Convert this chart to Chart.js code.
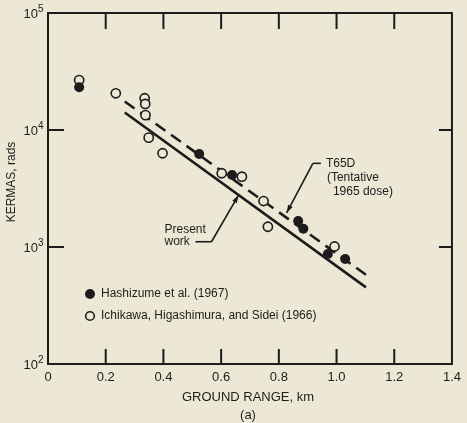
<!DOCTYPE html>
<html>
<head>
<meta charset="utf-8">
<script src="https://cdn.jsdelivr.net/npm/chart.js@4.4.0/dist/chart.umd.min.js"></script>
<style>
  html, body { margin: 0; padding: 0; background: #ece8d5; }
  canvas { display: block; }
</style>
</head>
<body>
<canvas id="grafico" width="467" height="423"></canvas>
<script>
// Valores
const xTicks = [0, 0.2, 0.4, 0.6, 0.8, 1.0, 1.2, 1.4];
const yTicks = [100, 1000, 10000, 100000];
const yExponentes = ['2', '3', '4', '5'];

// Hashizume et al. (1967) - círculos llenos
const hashizumeX = [0.108, 0.524, 0.638, 0.867, 0.885, 0.970, 1.030];
const hashizumeY = [23200, 6240, 4120, 1670, 1430, 870, 790];

// Ichikawa, Higashimura, and Sidei (1966) - círculos vacíos
const ichikawaX = [0.108, 0.235, 0.335, 0.337, 0.338, 0.349, 0.397, 0.602, 0.672, 0.747, 0.762, 0.993];
const ichikawaY = [26700, 20600, 18700, 16700, 13400, 8600, 6330, 4270, 3990, 2470, 1490, 1010];

// Curvas
const presenteX = [0.266, 1.102];
const presenteY = [14100, 452];
const t65dX = [0.266, 1.108];
const t65dY = [17500, 565];

// Flechas de las notas (codo y punta, en unidades de datos)
const t65dCodo = [0.918, 5190];
const t65dPunta = [0.827, 1955];
const presenteCodo = [0.5666, 1109];
const presentePunta = [0.6605, 2780];

const tinta = '#1c1c1c';
const fondo = '#ece8d5';
const fuente = '"Liberation Sans", Arial, sans-serif';

function puntos(xs, ys) {
  return xs.map((x, i) => ({ x, y: ys[i] }));
}

function flecha(ctx, x0, y0, x1, y1) {
  ctx.beginPath();
  ctx.moveTo(x0, y0);
  ctx.lineTo(x1, y1);
  ctx.stroke();
  const ang = Math.atan2(y1 - y0, x1 - x0);
  const L = 8, W = 2.6;
  ctx.beginPath();
  ctx.moveTo(x1, y1);
  ctx.lineTo(x1 - L * Math.cos(ang) + W * Math.sin(ang), y1 - L * Math.sin(ang) - W * Math.cos(ang));
  ctx.lineTo(x1 - L * Math.cos(ang) - W * Math.sin(ang), y1 - L * Math.sin(ang) + W * Math.cos(ang));
  ctx.closePath();
  ctx.fill();
}

// Plugin que dibuja el marco, las marcas interiores, etiquetas y notas
const marco = {
  id: 'marco',
  beforeDraw(chart) {
    const ctx = chart.ctx;
    ctx.save();
    ctx.fillStyle = fondo;
    ctx.fillRect(0, 0, chart.width, chart.height);
    ctx.restore();
  },
  afterDraw(chart) {
    const { ctx, chartArea: a, scales: { x, y } } = chart;
    ctx.save();
    ctx.strokeStyle = tinta;
    ctx.fillStyle = tinta;
    ctx.lineWidth = 2;
    ctx.strokeRect(a.left, a.top, a.right - a.left, a.bottom - a.top);

    // marcas hacia adentro
    ctx.beginPath();
    xTicks.slice(1, -1).forEach(v => {
      const px = x.getPixelForValue(v);
      ctx.moveTo(px, a.bottom);
      ctx.lineTo(px, a.bottom - 15);
      ctx.moveTo(px, a.top);
      ctx.lineTo(px, a.top + 16);
    });
    yTicks.slice(1, -1).forEach(v => {
      const py = y.getPixelForValue(v);
      ctx.moveTo(a.left, py);
      ctx.lineTo(a.left + 16, py);
      ctx.moveTo(a.right, py);
      ctx.lineTo(a.right - 13, py);
    });
    ctx.stroke();

    // etiquetas del eje y (10 con exponente)
    ctx.textBaseline = 'middle';
    yTicks.forEach((v, i) => {
      const py = y.getPixelForValue(v);
      ctx.font = '13px ' + fuente;
      ctx.textAlign = 'right';
      ctx.fillText('10', a.left - 10, py + 1);
      ctx.font = '10px ' + fuente;
      ctx.textAlign = 'left';
      ctx.fillText(yExponentes[i], a.left - 10, py - 4);
    });

    // títulos de ejes
    ctx.font = '13px ' + fuente;
    ctx.textAlign = 'center';
    ctx.fillText('GROUND RANGE, km', 248, 397);
    ctx.fillText('(a)', 248, 415);
    ctx.save();
    ctx.translate(12, 182);
    ctx.rotate(-Math.PI / 2);
    ctx.font = '12px ' + fuente;
    ctx.fillText('KERMAS, rads', 0, 0);
    ctx.restore();

    // leyenda
    const lx = a.left + 42;
    ctx.font = '12px ' + fuente;
    ctx.textAlign = 'left';
    ctx.beginPath();
    ctx.arc(lx, 294, 5, 0, Math.PI * 2);
    ctx.fill();
    ctx.fillText('Hashizume et al. (1967)', lx + 11, 294);
    ctx.lineWidth = 1.6;
    ctx.beginPath();
    ctx.arc(lx, 316, 4.3, 0, Math.PI * 2);
    ctx.stroke();
    ctx.fillText('Ichikawa, Higashimura, and Sidei (1966)', lx + 11, 316);

    // nota T65D
    ctx.lineWidth = 1.6;
    let cx = x.getPixelForValue(t65dCodo[0]);
    let cy = y.getPixelForValue(t65dCodo[1]);
    ctx.beginPath();
    ctx.moveTo(cx, cy);
    ctx.lineTo(cx + 8, cy);
    ctx.stroke();
    flecha(ctx, cx, cy, x.getPixelForValue(t65dPunta[0]), y.getPixelForValue(t65dPunta[1]));
    ctx.fillText('T65D', cx + 13, cy);
    ctx.fillText('(Tentative', cx + 14, cy + 14);
    ctx.fillText('1965 dose)', cx + 20, cy + 28.4);

    // nota Present work
    cx = x.getPixelForValue(presenteCodo[0]);
    cy = y.getPixelForValue(presenteCodo[1]);
    ctx.beginPath();
    ctx.moveTo(cx - 16, cy);
    ctx.lineTo(cx, cy);
    ctx.stroke();
    flecha(ctx, cx, cy, x.getPixelForValue(presentePunta[0]), y.getPixelForValue(presentePunta[1]));
    ctx.fillText('Present', cx - 47, cy - 11.7);
    ctx.fillText('work', cx - 47, cy);

    ctx.restore();
  }
};

const ctx = document.getElementById('grafico').getContext('2d');

new Chart(ctx, {
  type: 'scatter',
  data: {
    datasets: [
      {
        label: 'Present work',
        data: puntos(presenteX, presenteY),
        showLine: true,
        borderColor: tinta,
        borderWidth: 2.6,
        pointRadius: 0,
        order: 3
      },
      {
        label: 'T65D',
        data: puntos(t65dX, t65dY),
        showLine: true,
        borderColor: tinta,
        borderWidth: 2.6,
        borderDash: [12, 7],
        pointRadius: 0,
        order: 3
      },
      {
        label: 'Ichikawa, Higashimura, and Sidei (1966)',
        data: puntos(ichikawaX, ichikawaY),
        pointRadius: 4.6,
        pointBorderWidth: 1.6,
        pointBorderColor: tinta,
        pointBackgroundColor: fondo,
        order: 2
      },
      {
        label: 'Hashizume et al. (1967)',
        data: puntos(hashizumeX, hashizumeY),
        pointRadius: 5,
        pointBorderWidth: 0,
        pointBackgroundColor: tinta,
        order: 1
      }
    ]
  },
  options: {
    responsive: false,
    animation: false,
    devicePixelRatio: 1,
    layout: { padding: { top: 13, right: 12, left: 0, bottom: 0 } },
    plugins: {
      legend: { display: false },
      tooltip: { enabled: false }
    },
    scales: {
      x: {
        type: 'linear',
        min: 0,
        max: 1.4,
        afterBuildTicks: s => { s.ticks = xTicks.map(v => ({ value: v })); },
        afterFit: s => { s.height = 59; },
        grid: { display: false, drawTicks: false },
        border: { display: false },
        ticks: {
          color: tinta,
          padding: 6,
          maxRotation: 0,
          autoSkip: false,
          font: { family: fuente, size: 13 },
          callback: v => (v === 0 ? '0' : v.toFixed(1))
        }
      },
      y: {
        type: 'logarithmic',
        min: 100,
        max: 100000,
        afterBuildTicks: s => { s.ticks = yTicks.map(v => ({ value: v })); },
        afterFit: s => { s.width = 48; },
        grid: { display: false, drawTicks: false },
        border: { display: false },
        ticks: { display: false }
      }
    }
  },
  plugins: [marco]
});
</script>
</body>
</html>
